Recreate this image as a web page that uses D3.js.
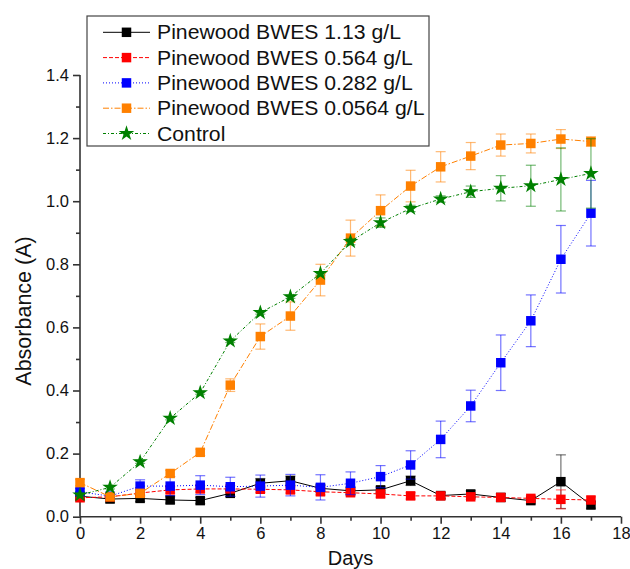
<!doctype html>
<html lang="en">
<head>
    <meta charset="utf-8">
    <title>Absorbance vs Days</title>
    <script src="https://d3js.org/d3.v7.min.js"></script>
    <style>
        body { margin: 0; background: #fff; }
        svg { font-family: "Liberation Sans", Arial, sans-serif; }
    </style>
</head>
<body>
<script>
    // data
    var days = [0, 1, 2, 3, 4, 5, 6, 7, 8, 9, 10, 11, 12, 13, 14, 15, 16, 17];

    var names = ["Pinewood BWES 1.13 g/L", "Pinewood BWES 0.564 g/L", "Pinewood BWES 0.282 g/L",
                 "Pinewood BWES 0.0564 g/L", "Control"];

    var bwes113 = [0.065, 0.056, 0.058, 0.053, 0.051, 0.074, 0.106, 0.114, 0.090, 0.082, 0.085, 0.114, 0.067, 0.072, 0.061, 0.051, 0.111, 0.037];
    var bwes113Err = [0.01, 0.01, 0.01, 0.01, 0.01, 0.01, 0.015, 0.015, 0.01, 0.01, 0.01, 0.015, 0.01, 0.01, 0.012, 0.01, 0.085, 0.01];

    var bwes0564 = [0.060, 0.063, 0.075, 0.085, 0.088, 0.088, 0.087, 0.085, 0.079, 0.076, 0.072, 0.066, 0.066, 0.063, 0.061, 0.058, 0.055, 0.053];
    var bwes0564Err = [0.01, 0.01, 0.01, 0.01, 0.01, 0.01, 0.01, 0.01, 0.01, 0.01, 0.01, 0.01, 0.008, 0.008, 0.008, 0.008, 0.03, 0.01];

    var bwes0282 = [0.079, 0.065, 0.097, 0.097, 0.100, 0.095, 0.097, 0.100, 0.093, 0.106, 0.127, 0.164, 0.245, 0.351, 0.488, 0.621, 0.816, 0.962];
    var bwes0282Err = [0.01, 0.01, 0.02, 0.03, 0.03, 0.03, 0.035, 0.034, 0.04, 0.036, 0.035, 0.045, 0.058, 0.05, 0.088, 0.082, 0.107, 0.104];

    var bwes00564 = [0.108, 0.063, 0.074, 0.137, 0.204, 0.417, 0.571, 0.636, 0.750, 0.883, 0.970, 1.048, 1.109, 1.143, 1.178, 1.183, 1.197, 1.189];
    var bwes00564Err = [0.01, 0.01, 0.01, 0.01, 0.01, 0.02, 0.04, 0.045, 0.05, 0.057, 0.05, 0.05, 0.048, 0.043, 0.035, 0.03, 0.03, 0.015];

    var control = [0.069, 0.093, 0.174, 0.312, 0.393, 0.557, 0.647, 0.697, 0.771, 0.872, 0.932, 0.977, 1.007, 1.030, 1.041, 1.049, 1.069, 1.088];
    var controlErr = [0.005, 0.005, 0.005, 0.005, 0.005, 0.005, 0.005, 0.005, 0.005, 0.01, 0.015, 0.01, 0.01, 0.018, 0.04, 0.065, 0.1, 0.11];

    var xTicks = [0, 2, 4, 6, 8, 10, 12, 14, 16, 18];
    var yTicks = [0, 0.2, 0.4, 0.6, 0.8, 1.0, 1.2, 1.4];

    var series = [
        { name: names[0], vals: bwes113, err: bwes113Err, color: "#000000", dash: null, sym: d3.symbolSquare },
        { name: names[1], vals: bwes0564, err: bwes0564Err, color: "#ff0000", dash: "4,2", sym: d3.symbolSquare },
        { name: names[2], vals: bwes0282, err: bwes0282Err, color: "#0000ff", dash: "1,2", sym: d3.symbolSquare },
        { name: names[3], vals: bwes00564, err: bwes00564Err, color: "#ff8000", dash: "6,2,1.5,2", sym: d3.symbolSquare },
        { name: names[4], vals: control, err: controlErr, color: "#008000", dash: "3,2,1,2", sym: d3.symbolStar }
    ];

    var width = 630, height = 569;

    var x = d3.scaleLinear().domain([0, 18]).range([80, 621]);
    var y = d3.scaleLinear().domain([0, 1.4]).range([516.7, 75]);

    var svg = d3.select("body").append("svg")
        .attr("width", width)
        .attr("height", height);

    // the original legend text is drawn a little wider than the font
    function stretch(sel, k) {
        sel.each(function () {
            var len = this.getComputedTextLength();
            d3.select(this).attr("textLength", len * k).attr("lengthAdjust", "spacingAndGlyphs");
        });
    }

    // axes (minor ticks first, then major with labels)
    var axisColor = "#333";

    var xMinor = svg.append("g")
        .attr("transform", "translate(0," + y(0) + ")")
        .call(d3.axisBottom(x).tickValues(d3.range(1, 18, 2)).tickSize(4).tickFormat(""));
    var xMajor = svg.append("g")
        .attr("transform", "translate(0," + y(0) + ")")
        .call(d3.axisBottom(x).tickValues(xTicks).tickSize(7).tickPadding(4).tickFormat(d3.format("d")));

    var yMinor = svg.append("g")
        .attr("transform", "translate(" + x(0) + ",0)")
        .call(d3.axisLeft(y).tickValues(d3.range(0.1, 1.4, 0.2)).tickSize(4).tickFormat(""));
    var yMajor = svg.append("g")
        .attr("transform", "translate(" + x(0) + ",0)")
        .call(d3.axisLeft(y).tickValues(yTicks).tickSize(7).tickPadding(4).tickFormat(d3.format(".1f")));

    [xMinor, xMajor, yMinor, yMajor].forEach(function (g) {
        g.select(".domain").attr("stroke", axisColor).attr("stroke-width", 1.6);
        g.selectAll(".tick line").attr("stroke", axisColor).attr("stroke-width", 1.6);
        g.selectAll(".tick text").attr("fill", "#111").style("font-size", "16.5px");
    });
    // plain axis lines without end caps
    xMajor.select(".domain").attr("d", "M" + x(0) + ",0H" + x(18));
    xMinor.select(".domain").remove();
    yMajor.select(".domain").attr("d", "M0," + y(1.4) + "V" + y(0));
    yMinor.select(".domain").remove();

    svg.append("text")
        .attr("x", (x(0) + x(18)) / 2)
        .attr("y", 565)
        .attr("text-anchor", "middle")
        .style("font-size", "20px")
        .attr("fill", "#111")
        .text("Days");

    svg.append("text")
        .attr("transform", "translate(31,311) rotate(-90)")
        .attr("text-anchor", "middle")
        .style("font-size", "21.5px")
        .attr("fill", "#111")
        .text("Absorbance (A)");

    // series: error bars, lines, markers
    series.forEach(function (s) {
        var g = svg.append("g");
        var pts = days.map(function (d, i) { return { d: d, v: s.vals[i], e: s.err[i] }; });

        var eb = g.selectAll(".eb").data(pts).enter().append("g")
            .attr("stroke", s.color)
            .attr("stroke-opacity", 0.55)
            .attr("stroke-width", 1.2);
        eb.append("line")
            .attr("x1", function (p) { return x(p.d); })
            .attr("x2", function (p) { return x(p.d); })
            .attr("y1", function (p) { return y(p.v - p.e); })
            .attr("y2", function (p) { return y(p.v + p.e); });
        [-1, 1].forEach(function (sg) {
            eb.append("line")
                .attr("x1", function (p) { return x(p.d) - 5; })
                .attr("x2", function (p) { return x(p.d) + 5; })
                .attr("y1", function (p) { return y(p.v + sg * p.e); })
                .attr("y2", function (p) { return y(p.v + sg * p.e); });
        });

        var line = d3.line()
            .x(function (p) { return x(p.d); })
            .y(function (p) { return y(p.v); });

        g.append("path")
            .datum(pts)
            .attr("fill", "none")
            .attr("stroke", s.color)
            .attr("stroke-width", 1)
            .attr("stroke-dasharray", s.dash)
            .attr("d", line);

        var size = s.sym === d3.symbolStar ? 75 : 90;
        g.selectAll(".m").data(pts).enter().append("path")
            .attr("transform", function (p) { return "translate(" + x(p.d) + "," + y(p.v) + ")"; })
            .attr("fill", s.color)
            .attr("d", d3.symbol().type(s.sym).size(size));
    });

    // legend
    var legend = svg.append("g");
    legend.append("rect")
        .attr("x", 87).attr("y", 16)
        .attr("width", 342).attr("height", 130)
        .attr("fill", "#fff")
        .attr("stroke", "#444")
        .attr("stroke-width", 1.2);

    series.forEach(function (s, i) {
        var ly = 32.3 + i * 25.3;
        legend.append("line")
            .attr("x1", 103).attr("x2", 150)
            .attr("y1", ly).attr("y2", ly)
            .attr("stroke", s.color)
            .attr("stroke-width", 1)
            .attr("stroke-dasharray", s.dash);
        legend.append("path")
            .attr("transform", "translate(126.5," + ly + ")")
            .attr("fill", s.color)
            .attr("d", d3.symbol().type(s.sym).size(s.sym === d3.symbolStar ? 75 : 90));
        legend.append("text")
            .attr("x", 157)
            .attr("y", ly + 7)
            .style("font-size", "20px")
            .attr("fill", "#111")
            .text(s.name)
            .call(stretch, 1.06);
    });
</script>
</body>
</html>
